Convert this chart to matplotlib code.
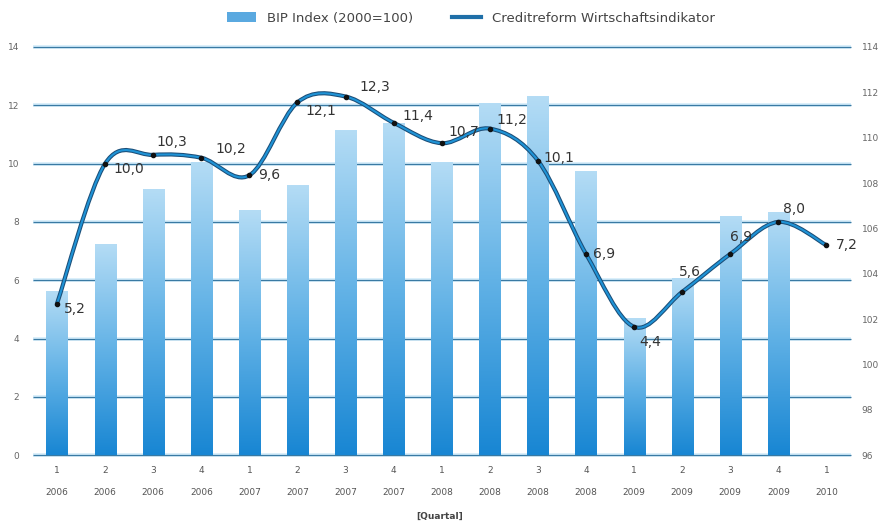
import matplotlib
matplotlib.use("Agg")
import matplotlib.pyplot as plt
import numpy as np
from matplotlib.path import Path
from matplotlib.patches import PathPatch, Patch
from matplotlib.lines import Line2D
from matplotlib.colors import LinearSegmentedColormap
from matplotlib.transforms import blended_transform_factory

# data
quarters = ['1', '2', '3', '4', '1', '2', '3', '4', '1', '2', '3', '4', '1', '2', '3', '4', '1']
years = ['2006', '2006', '2006', '2006', '2007', '2007', '2007', '2007',
         '2008', '2008', '2008', '2008', '2009', '2009', '2009', '2009', '2010']
bip_index = [103.2, 105.3, 107.7, 108.9, 106.8, 107.9, 110.3, 110.6,
             108.9, 111.5, 111.8, 108.5, 102.0, 103.8, 106.5, 106.7]
indikator = [5.2, 10.0, 10.3, 10.2, 9.6, 12.1, 12.3, 11.4, 10.7, 11.2,
             10.1, 6.9, 4.4, 5.6, 6.9, 8.0, 7.2]

# label offsets in points (style only)
offsets = [(5, -4), (6, -4), (2, 9), (10, 6), (6, 0), (6, -6), (10, 7), (6, 5),
           (5, 8), (5, 6), (4, 2), (5, 0), (4, -11), (-2, 14), (0, 12), (3, 9), (7, 0)]

fig = plt.figure(figsize=(8.8, 5.28), dpi=100)
ax = fig.add_axes([0.0375, 0.138, 0.929, 0.773])   # bars, right scale
ax2 = ax.twinx()                                    # line, left scale

n = len(quarters)
x = np.arange(n)
ax.set_xlim(-0.5, n - 0.5)
ax.set_ylim(96, 114)
ax2.set_ylim(0, 14)

# gridlines from the left scale, drawn behind the bars
grid_tr = blended_transform_factory(ax.transAxes, ax2.transData)
for v in range(0, 15, 2):
    ax.plot([0, 1], [v, v], transform=grid_tr, color='#d3ecfa', lw=2.6, zorder=0,
            solid_capstyle='butt', clip_on=False)
    ax.plot([0, 1], [v, v], transform=grid_tr, color='#3a7aa3', lw=0.9, zorder=0.5,
            solid_capstyle='butt', clip_on=False)

# gradient bars
cmap = LinearSegmentedColormap.from_list('bars', ['#1886d3', '#62b2e6', '#b4dcf5'])
grad = np.linspace(0, 1, 256).reshape(-1, 1)
bars = ax.bar(x[:len(bip_index)], np.array(bip_index) - 96, bottom=96, width=0.44,
              facecolor='none', edgecolor='none', zorder=1)
for r in bars:
    x0, y0 = r.get_x(), r.get_y()
    ax.imshow(grad, extent=[x0, x0 + r.get_width(), y0, y0 + r.get_height()],
              origin='lower', aspect='auto', cmap=cmap, zorder=1)
ax.set_xlim(-0.5, n - 0.5)
ax.set_ylim(96, 114)

# smooth line (bezier through the points)
pts = np.column_stack([x, indikator]).astype(float)
verts = [pts[0]]
codes = [Path.MOVETO]
for i in range(n - 1):
    p0 = pts[i - 1] if i > 0 else pts[i]
    p1 = pts[i]
    p2 = pts[i + 1]
    p3 = pts[i + 2] if i + 2 < n else pts[i + 1]
    c1 = p1 + (p2 - p0) / 6.0
    c2 = p2 - (p3 - p1) / 6.0
    verts += [c1, c2, p2]
    codes += [Path.CURVE4] * 3
path = Path(verts, codes)
ax2.add_patch(PathPatch(path, facecolor='none', edgecolor='#1b4e78', lw=3.0, zorder=3))
ax2.add_patch(PathPatch(path, facecolor='none', edgecolor='#1f93d6', lw=1.5, zorder=4))
ax2.plot(x, indikator, 'o', color='#111111', ms=3, zorder=5)

for xi, yi, (dx, dy) in zip(x, indikator, offsets):
    ax2.annotate(f'{yi:.1f}'.replace('.', ','), (xi, yi), xytext=(dx, dy),
                 textcoords='offset points', fontsize=10, color='#333333',
                 ha='left', va='center', zorder=6)

# axes styling
for a in (ax, ax2):
    for s in a.spines.values():
        s.set_visible(False)

ax.set_xticks(x)
ax.set_xticklabels([f'{q}\n\n{yr}' for q, yr in zip(quarters, years)],
                   fontsize=6.5, color='#555555', linespacing=1.25)
ax.tick_params(axis='x', length=0, pad=8)

ax.yaxis.tick_right()
ax.set_yticks(range(96, 115, 2))
ax.tick_params(axis='y', length=0, pad=8, labelsize=6.5, labelcolor='#666666')

ax2.yaxis.tick_left()
ax2.set_yticks(range(0, 15, 2))
ax2.tick_params(axis='y', length=0, pad=10, labelsize=6.5, labelcolor='#666666')

fig.text(0.5, 0.018, '[Quartal]', ha='center', fontsize=6.5, color='#444444',
         fontweight='bold')

handles = [Patch(facecolor='#5aa9e0', edgecolor='none'),
           Line2D([0], [0], color='#1f6fa8', lw=3)]
fig.legend(handles, ['BIP Index (2000=100)', 'Creditreform Wirtschaftsindikator'],
           loc='upper center', bbox_to_anchor=(0.535, 1.0), ncol=2, frameon=False,
           fontsize=9.5, handlelength=2.2, handleheight=0.8, columnspacing=3,
           labelcolor='#444444')

fig.savefig('out.png', dpi=100)
